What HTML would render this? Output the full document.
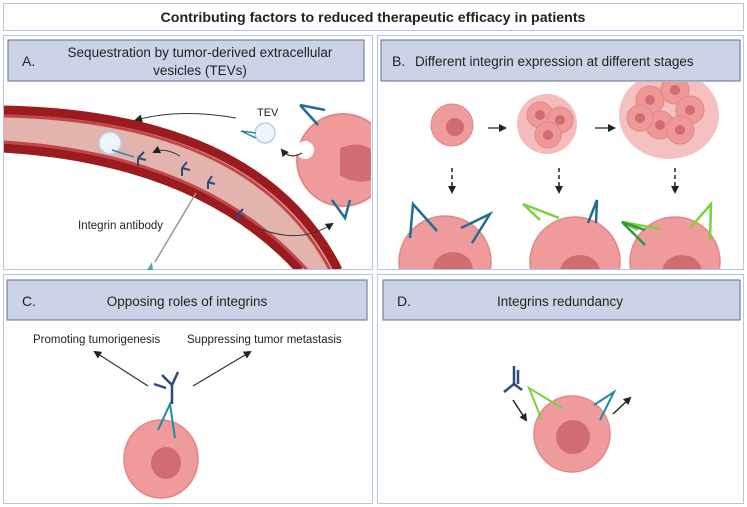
<!DOCTYPE html>
<html><head><meta charset="utf-8"><style>
html,body{margin:0;padding:0;background:#fff}
svg{display:block}
text{font-family:"Liberation Sans",sans-serif;fill:#222}
</style></head><body>
<svg width="747" height="507" viewBox="0 0 747 507" xmlns="http://www.w3.org/2000/svg">
<defs>
<marker id="ah" markerWidth="8" markerHeight="8" refX="6" refY="4" orient="auto" markerUnits="userSpaceOnUse"><path d="M0,0 L8,4 L0,8 z" fill="#222"/></marker>
<clipPath id="cA"><rect x="4" y="82" width="367" height="187"/></clipPath>
<clipPath id="cB"><rect x="378" y="82" width="365" height="187"/></clipPath>
</defs>
<rect x="3.5" y="3.5" width="740" height="27" fill="#fff" stroke="#b4c4e6"/>
<text x="373" y="22" font-size="14.2" font-weight="bold" text-anchor="middle">Contributing factors to reduced therapeutic efficacy in patients</text>
<rect x="3.5" y="35.5" width="369" height="234" fill="#fff" stroke="#b4c4e6"/>
<rect x="377.5" y="35.5" width="366" height="234" fill="#fff" stroke="#b4c4e6"/>
<rect x="3.5" y="274.5" width="369" height="229" fill="#fff" stroke="#b4c4e6"/>
<rect x="377.5" y="274.5" width="366" height="229" fill="#fff" stroke="#b4c4e6"/>
<rect x="8" y="40" width="356" height="41" fill="#cdd3e6" stroke="#5d6c92"/>
<text x="22" y="66" font-size="14">A.</text>
<text x="200" y="57" font-size="13.5" text-anchor="middle">Sequestration by tumor-derived extracellular</text>
<text x="200" y="75" font-size="13.5" text-anchor="middle">vesicles (TEVs)</text>
<rect x="381" y="40" width="359" height="41" fill="#cdd3e6" stroke="#5d6c92"/>
<text x="392" y="66" font-size="14">B.</text>
<text x="415" y="66" font-size="13.5">Different integrin expression at different stages</text>
<rect x="7" y="280" width="360" height="40" fill="#cdd3e6" stroke="#5d6c92"/>
<text x="22" y="306" font-size="14">C.</text>
<text x="187" y="306" font-size="13.5" text-anchor="middle">Opposing roles of integrins</text>
<rect x="383" y="280" width="357" height="40" fill="#cdd3e6" stroke="#5d6c92"/>
<text x="397" y="306" font-size="14">D.</text>
<text x="560" y="306" font-size="13.5" text-anchor="middle">Integrins redundancy</text>

<g clip-path="url(#cA)">
<path d="M3,110 Q260,115 338,270 L300,270 Q200,160 3,148 Z" fill="#e3b3ae"/>
<path d="M3,110 Q260,115 338,270" fill="none" stroke="#9b1b1e" stroke-width="9"/>
<path d="M3,116 Q252,121 330,270" fill="none" stroke="#c2474a" stroke-width="3"/>
<path d="M3,148 Q200,160 300,270" fill="none" stroke="#9b1b1e" stroke-width="9"/>
<path d="M3,142 Q204,154 307,270" fill="none" stroke="#c2474a" stroke-width="3"/>
<circle cx="343" cy="160" r="46" fill="#ef9b9b" stroke="#e48686" stroke-width="2"/>
<circle cx="305" cy="150" r="9" fill="#fff"/>
<path d="M340,148 Q360,140 372,150 L372,180 Q355,185 340,175 Z" fill="#d16d70"/>
<path d="M300,105 L318,125 M300,105 L325,110" stroke="#1f6d94" stroke-width="2.5"/>
<path d="M332,200 L345,218 L350,200" fill="none" stroke="#1f6d94" stroke-width="2.5"/>
</g>
<circle cx="265" cy="133" r="10" fill="#eef4fa" stroke="#b8d0e6" stroke-width="1.5"/>
<path d="M241,131 L256,133 M241,131 L256,138" stroke="#2a8aa0" stroke-width="1.5"/>
<text x="257" y="116" font-size="11">TEV</text>
<circle cx="110" cy="143" r="11" fill="#eef4fa" stroke="#b8d0e6" stroke-width="1.5"/>
<path d="M112,150 L134,157" stroke="#2a8aa0" stroke-width="1.5"/>
<g stroke="#2c4a7a" stroke-width="2" fill="none">
<path d="M138,158 l6,-6 m-6,6 l8,2 m-8,-2 l0,8"/>
<path d="M182,168 l5,-6 m-5,6 l8,2 m-8,-2 l0,8"/>
<path d="M208,182 l4,-6 m-4,6 l7,2 m-7,-2 l0,7"/>
<path d="M238,214 l5,-5 m-5,5 l7,3 m-7,-3 l-1,7"/>
</g>
<path d="M236,118 Q180,108 136,120" fill="none" stroke="#333" stroke-width="1" marker-end="url(#ah)"/>
<path d="M302,153 Q290,160 282,150" fill="none" stroke="#333" stroke-width="1.2" marker-end="url(#ah)"/>
<path d="M180,156 Q165,147 154,152" fill="none" stroke="#333" stroke-width="1" marker-end="url(#ah)"/>
<path d="M258,228 Q300,245 332,224" fill="none" stroke="#333" stroke-width="1" marker-end="url(#ah)"/>
<line x1="196" y1="193" x2="155" y2="262" stroke="#999" stroke-width="1.5"/>
<path d="M152,262 l-5,8 l6,0 z" fill="#4fa89a"/>
<text x="78" y="229" font-size="11.5">Integrin antibody</text>

<g clip-path="url(#cB)">
<circle cx="452" cy="125" r="21" fill="#ef9b9b" stroke="#e48686"/>
<circle cx="455" cy="127" r="9" fill="#d16d70"/>
<circle cx="547" cy="124" r="30" fill="#f4bcbc"/>
<circle cx="540" cy="115" r="13" fill="#ee9898" stroke="#e38585"/><circle cx="560" cy="120" r="13" fill="#ee9898" stroke="#e38585"/><circle cx="548" cy="135" r="13" fill="#ee9898" stroke="#e38585"/>
<circle cx="540" cy="115" r="5" fill="#d16d70"/><circle cx="560" cy="120" r="5" fill="#d16d70"/><circle cx="548" cy="135" r="5" fill="#d16d70"/>
<ellipse cx="669" cy="115" rx="50" ry="44" fill="#f4c0c0"/>
<g fill="#ee9898" stroke="#e38585">
<circle cx="650" cy="100" r="14"/><circle cx="675" cy="90" r="14"/><circle cx="690" cy="110" r="14"/><circle cx="660" cy="125" r="14"/><circle cx="680" cy="130" r="14"/><circle cx="640" cy="118" r="13"/>
</g>
<g fill="#d16d70"><circle cx="650" cy="100" r="5"/><circle cx="675" cy="90" r="5"/><circle cx="690" cy="110" r="5"/><circle cx="660" cy="125" r="5"/><circle cx="680" cy="130" r="5"/><circle cx="640" cy="118" r="5"/></g>
<circle cx="445" cy="262" r="46" fill="#ef9b9b" stroke="#e48686" stroke-width="1.5"/>
<ellipse cx="453" cy="270" rx="20" ry="18" fill="#d16d70"/>
<circle cx="575" cy="262" r="45" fill="#ef9b9b" stroke="#e48686" stroke-width="1.5"/>
<ellipse cx="580" cy="272" rx="20" ry="17" fill="#d16d70"/>
<circle cx="675" cy="262" r="45" fill="#ef9b9b" stroke="#e48686" stroke-width="1.5"/>
<ellipse cx="682" cy="272" rx="20" ry="17" fill="#d16d70"/>
</g>
<path d="M488,128 L505,128" stroke="#222" stroke-width="1.3" marker-end="url(#ah)"/>
<path d="M595,128 L614,128" stroke="#222" stroke-width="1.3" marker-end="url(#ah)"/>
<g stroke="#222" stroke-width="1.5" stroke-dasharray="4,3">
<path d="M452,168 L452,192" marker-end="url(#ah)"/>
<path d="M559,168 L559,192" marker-end="url(#ah)"/>
<path d="M675,168 L675,192" marker-end="url(#ah)"/>
</g>
<g fill="none" stroke-width="2.5">
<path d="M410,238 L413,204 L437,231" stroke="#1f6d94"/>
<path d="M461,228 L490,214 L472,243" stroke="#1f6d94"/>
<path d="M540,220 L523,204 L559,218" stroke="#7ad33a"/>
<path d="M596,223 L597,200 L588,223" stroke="#1f6d94"/>
<path d="M638,230 L622,222 L660,229" stroke="#7ad33a"/>
<path d="M645,230 L622,222 L645,245" stroke="#2e9a3a"/>
<path d="M690,228 L711,204 L710,240" stroke="#7ad33a"/>
</g>

<text x="33" y="343" font-size="11.5">Promoting tumorigenesis</text>
<text x="187" y="343" font-size="11.5">Suppressing tumor metastasis</text>
<path d="M148,386 L95,352" stroke="#333" stroke-width="1.2" marker-end="url(#ah)"/>
<path d="M193,386 L250,352" stroke="#333" stroke-width="1.2" marker-end="url(#ah)"/>
<ellipse cx="161" cy="459" rx="37" ry="39" fill="#ef9b9b" stroke="#e48686" stroke-width="1.5"/>
<ellipse cx="166" cy="463" rx="15" ry="16" fill="#d16d70"/>
<g fill="none" stroke="#2c4a7a" stroke-width="2.5">
<path d="M172,404 L172,385 L162,375 M172,385 L178,372 M166,388 L154,384"/>
</g>
<path d="M158,430 L170,404 L175,438" fill="none" stroke="#1f8ba0" stroke-width="2"/>

<circle cx="572" cy="434" r="38" fill="#ef9b9b" stroke="#e48686" stroke-width="1.5"/>
<ellipse cx="573" cy="437" rx="17" ry="17" fill="#d16d70"/>
<g fill="none" stroke="#2c4a7a" stroke-width="2.5">
<path d="M514,366 L514,384 L504,392 M514,384 L522,390 M518,370 L518,384"/>
</g>
<path d="M542,420 L529,388 L562,408" fill="none" stroke="#7ad33a" stroke-width="2"/>
<path d="M594,405 L614,392 L600,420" fill="none" stroke="#1f8ba0" stroke-width="2"/>
<path d="M513,400 L526,420" stroke="#222" stroke-width="1.5" marker-end="url(#ah)"/>
<path d="M613,414 L630,398" stroke="#222" stroke-width="1.5" marker-end="url(#ah)"/>
</svg>
</body></html>
